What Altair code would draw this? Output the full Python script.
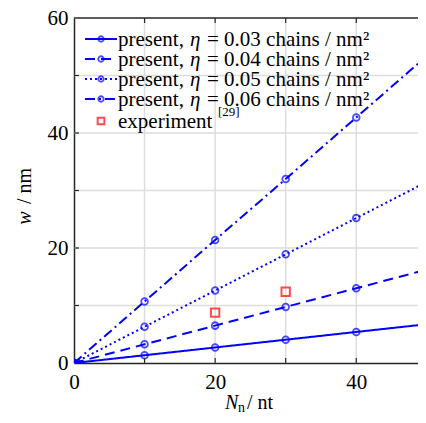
import altair as alt
import pandas as pd

# ---------------- data ----------------
x_vals = [0, 10, 20, 30, 40, 50]
w_003 = [0, 1.35, 2.7, 4.05, 5.4, 6.75]
w_004 = [0, 3.25, 6.5, 9.75, 13.0, 16.25]
w_005 = [0, 6.3, 12.6, 18.9, 25.2, 31.5]
w_006 = [0, 10.7, 21.4, 32.0, 42.7, 53.4]
series_names = ["0.03", "0.04", "0.05", "0.06"]
legend_prefix = "present,"
legend_symbol = "η"
legend_rest = [
    "= 0.03 chains / nm²",
    "= 0.04 chains / nm²",
    "= 0.05 chains / nm²",
    "= 0.06 chains / nm²",
]
exp_label = "experiment"
exp_ref = "[29]"
exp_x = [20, 30]
exp_w = [8.75, 12.4]
x_grid = [10, 20, 30, 40]
y_grid = [10, 20, 30, 40, 50]
x_labels = [0, 20, 40]
y_labels = [0, 20, 40, 60]
dashes = [[1, 0], [10, 6], [2, 3], [10, 4, 2, 4]]

W, H = 344, 345
XMAX = 48.75          # visible part of the 0..50 axis (right side cut like the reference)
BLUE = "#0000ff"
AXC = "#262626"
FONT = "serif"

rows = []
for name, ws in zip(series_names, [w_003, w_004, w_005, w_006]):
    for xv, wv in zip(x_vals, ws):
        rows.append({"x": xv, "w": wv, "series": name})
df = pd.DataFrame(rows)
exp_df = pd.DataFrame({"x": exp_x, "w": exp_w})
leg_df = pd.DataFrame({"row": [0, 1, 2, 3], "series": series_names,
                       "a": [legend_prefix] * 4, "b": [legend_symbol] * 4, "c": legend_rest})
leg_exp = pd.DataFrame({"row": [4.1], "label": [exp_label], "ref": [exp_ref]})

xs = alt.Scale(domain=[0, XMAX], nice=False, zero=False)
ys = alt.Scale(domain=[0, 60], nice=False, zero=False)
dash_enc = alt.StrokeDash("series:N", scale=alt.Scale(domain=series_names, range=dashes), legend=None)

xgrid = alt.Chart(pd.DataFrame({"x": x_grid})).mark_rule(color="#dddddd", strokeWidth=1.5).encode(
    x=alt.X("x:Q", scale=xs), y=alt.value(0), y2=alt.value(H))
ygrid = alt.Chart(pd.DataFrame({"y": y_grid})).mark_rule(color="#dddddd", strokeWidth=1.5).encode(
    y=alt.Y("y:Q", scale=ys), x=alt.value(0), x2=alt.value(W))
xtick_b = alt.Chart(pd.DataFrame({"x": x_grid})).mark_rule(color=AXC, strokeWidth=1.2).encode(
    x=alt.X("x:Q", scale=xs), y=alt.value(H), y2=alt.value(H - 5))
xtick_t = alt.Chart(pd.DataFrame({"x": x_grid})).mark_rule(color=AXC, strokeWidth=1.2).encode(
    x=alt.X("x:Q", scale=xs), y=alt.value(0), y2=alt.value(5))
ytick_l = alt.Chart(pd.DataFrame({"y": y_grid})).mark_rule(color=AXC, strokeWidth=1.2).encode(
    y=alt.Y("y:Q", scale=ys), x=alt.value(0), x2=alt.value(5))
top_border = alt.Chart(pd.DataFrame({"a": [0]})).mark_rule(color=AXC, strokeWidth=1.5).encode(
    y=alt.value(0), x=alt.value(0), x2=alt.value(W))

lines = alt.Chart(df).mark_line(color=BLUE, strokeWidth=2, clip=True).encode(
    x=alt.X("x:Q", scale=xs,
            axis=alt.Axis(values=x_labels, title=None, grid=False, ticks=False, tickSize=0,
                          labelFont=FONT, labelFontSize=21, labelColor="black", labelPadding=8,
                          labelFlush=False, domainColor=AXC, domainWidth=1.5)),
    y=alt.Y("w:Q", scale=ys,
            axis=alt.Axis(values=y_labels, title=None, grid=False, ticks=False, tickSize=0,
                          labelFont=FONT, labelFontSize=21, labelColor="black", labelPadding=6,
                          labelFlush=False, domainColor=AXC, domainWidth=1.5)),
    strokeDash=dash_enc,
    detail="series:N",
)
pts = alt.Chart(df).mark_point(shape="circle", filled=False, color=BLUE, size=45, strokeWidth=1.8, clip=True).encode(
    x=alt.X("x:Q", scale=xs), y=alt.Y("w:Q", scale=ys))
exp = alt.Chart(exp_df).mark_point(shape="square", filled=False, color="#ff0000", size=70, strokeWidth=2).encode(
    x=alt.X("x:Q", scale=xs), y=alt.Y("w:Q", scale=ys))

main = alt.layer(xgrid, ygrid, lines, pts, exp, xtick_b, xtick_t, ytick_l, top_border)

ls = alt.Scale(domain=[0, 4], range=[21, 101], nice=False, zero=False)
ly = alt.Y("row:Q", scale=ls, axis=None)
leg_lines = alt.Chart(leg_df).mark_rule(color=BLUE, strokeWidth=2).encode(
    y=ly, x=alt.value(11), x2=alt.value(43), strokeDash=dash_enc)
leg_pts = alt.Chart(leg_df).mark_point(shape="circle", filled=False, color=BLUE, size=30, strokeWidth=1.8).encode(
    y=ly, x=alt.value(27))
tkw = dict(font=FONT, fontSize=21, align="left", baseline="middle", color="black", dy=1)
leg_a = alt.Chart(leg_df).mark_text(**tkw).encode(y=ly, x=alt.value(44), text="a:N")
leg_b = alt.Chart(leg_df).mark_text(fontStyle="italic", **tkw).encode(y=ly, x=alt.value(116), text="b:N")
leg_c = alt.Chart(leg_df).mark_text(**tkw).encode(y=ly, x=alt.value(133), text="c:N")
leg_sq = alt.Chart(leg_exp).mark_point(shape="square", filled=False, color="#ff0000", size=45, strokeWidth=2).encode(
    y=ly, x=alt.value(27))
leg_etxt = alt.Chart(leg_exp).mark_text(**tkw).encode(y=ly, x=alt.value(44), text="label:N")
leg_ref = alt.Chart(leg_exp).mark_text(font=FONT, fontSize=13, align="left", baseline="middle", color="black", dy=-9).encode(
    y=ly, x=alt.value(144), text="ref:N")
legend = alt.layer(leg_lines, leg_pts, leg_a, leg_b, leg_c, leg_sq, leg_etxt, leg_ref)


def txt(s, x, y, size=20, style="normal", angle=0, align="left", baseline="alphabetic"):
    return alt.Chart(pd.DataFrame({"t": [s]})).mark_text(
        font=FONT, fontSize=size, fontStyle=style, angle=angle, align=align, baseline=baseline, color="black"
    ).encode(text="t:N", x=alt.value(x), y=alt.value(y))


titles = alt.layer(
    txt("N", 151, 391, style="italic"),
    txt("n", 164, 394, size=14),
    txt("/ nt", 173, 391),
    txt("w", -49, 200, style="italic", angle=270, align="center", baseline="middle"),
    txt("/ nm", -49, 168, angle=270, align="center", baseline="middle"),
)

chart = alt.layer(main, legend, titles).resolve_scale(y="independent").properties(
    width=W, height=H,
    autosize=alt.AutoSizeParams(type="none"),
    padding={"left": 66, "top": 10, "right": 0, "bottom": 52},
).configure_view(stroke=None)

chart.save("out.html", embed_options={"renderer": "svg", "actions": False})
